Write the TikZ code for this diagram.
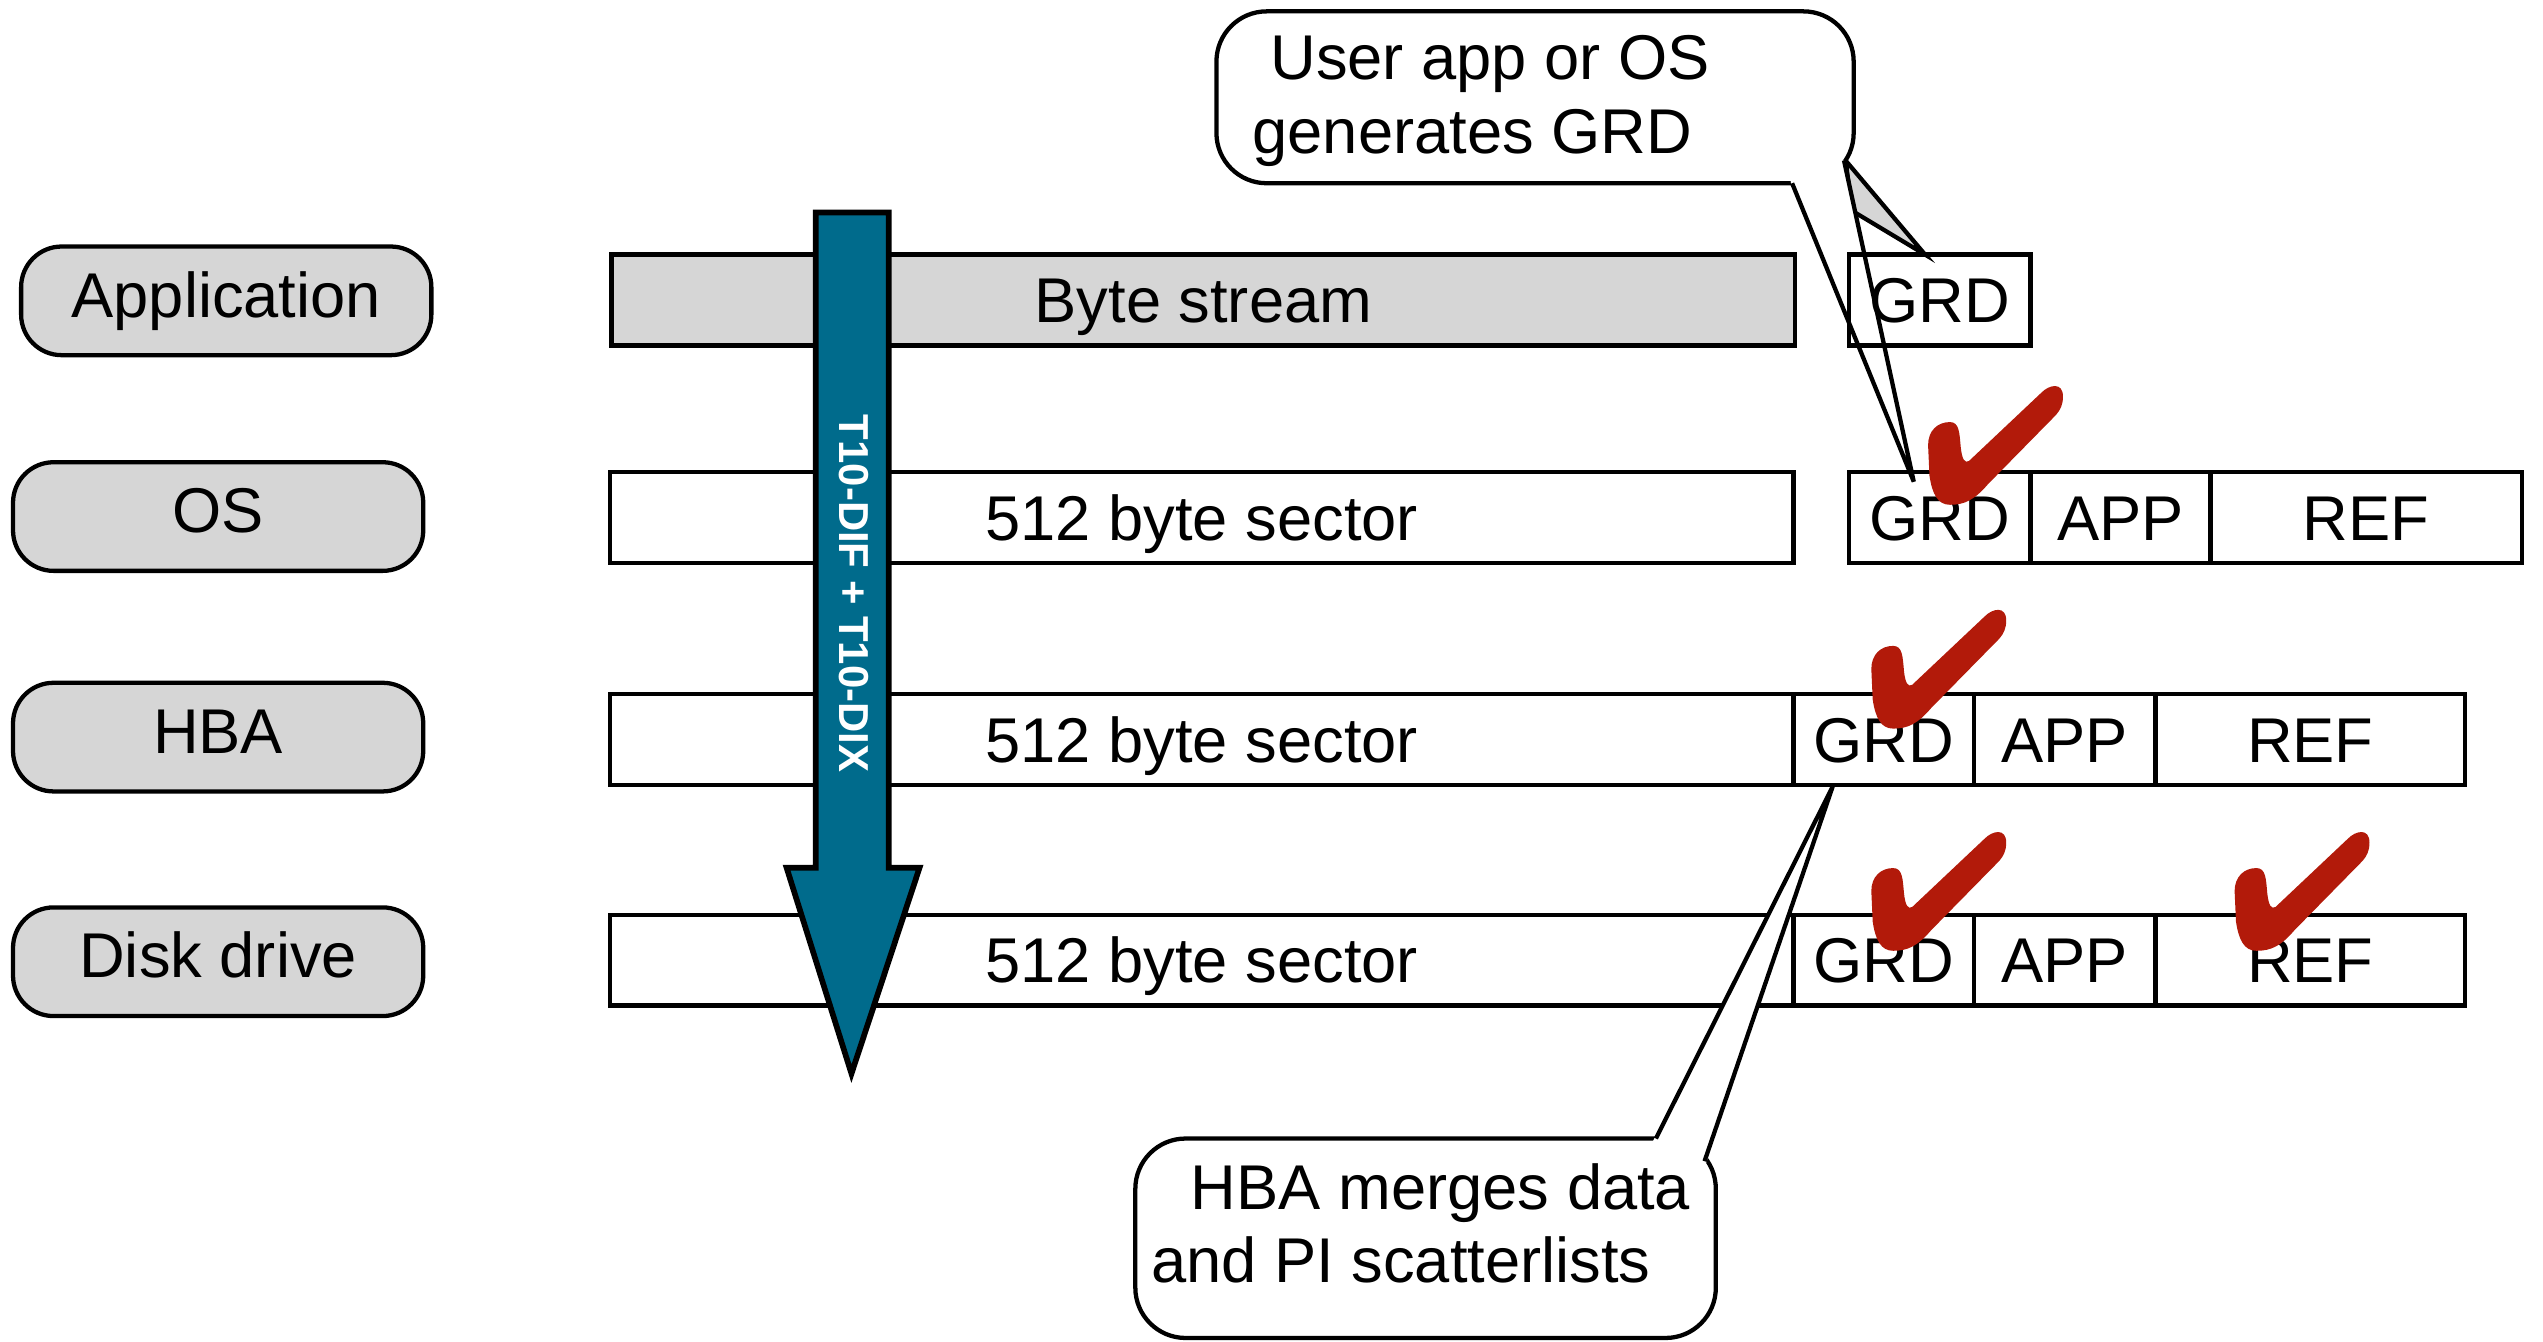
\documentclass[tikz,border=0pt]{standalone}
\usepackage{fontspec}
\setmainfont{Liberation Sans}
\definecolor{boxgray}{RGB}{214,214,214}
\definecolor{checkred}{RGB}{178,26,10}
\definecolor{arrowblue}{RGB}{0,107,140}
\begin{document}
\begin{tikzpicture}[x=0.02cm, y=-0.02cm, line width=1.5pt,
  every node/.style={font=\fontsize{22.2}{26}\selectfont},
  layerbox/.style={draw, fill=boxgray, rounded corners=0.5cm, minimum width=5.06cm,
    minimum height=1.34cm, inner sep=0pt, text height=0.56cm, text depth=0.16cm},
  secbox/.style={draw, minimum height=1.12cm, inner sep=0pt, text height=0.56cm, text depth=0pt},
  bubble/.style={draw, fill=white, rounded corners=0.62cm, inner sep=0pt},
  bubtext/.style={anchor=base west, inner sep=0pt},
  pics/redtick/.style={code={
    \fill[checkred] (0.17,0.99) .. controls (0.08,0.99) and (0.04,0.9) .. (0.02,0.75)
      -- (0.01,0.5) .. controls (0.01,0.38) and (0.08,0.31) .. (0.17,0.31)
      .. controls (0.24,0.31) and (0.24,0.4) .. (0.25,0.52)
      .. controls (0.26,0.62) and (0.28,0.65) .. (0.31,0.63)
      -- (0.84,0.07) .. controls (0.9,0.0) and (1.0,-0.02) .. (1.0,0.1)
      .. controls (1.0,0.17) and (0.98,0.21) .. (0.95,0.25)
      -- (0.45,0.82) .. controls (0.35,0.95) and (0.28,0.99) .. (0.17,0.99) -- cycle;
  }},
]
\useasboundingbox (0,0) rectangle (1568,827);

% layer labels
\node[layerbox] (lapp) at (139.5,185.5) {Application};
\node[layerbox] (los) at (134.5,318.5) {OS};
\node[layerbox] (lhba) at (134.5,454.5) {HBA};
\node[layerbox] (ldisk) at (134.5,593) {Disk drive};

% data boxes
\node[secbox, fill=boxgray, minimum width=14.6cm] (bs) at (742,185) {Byte stream};
\node[secbox, minimum width=14.6cm] (s1) at (741,319) {512 byte sector};
\node[secbox, minimum width=14.6cm] (s2) at (741,456) {512 byte sector};
\node[secbox, minimum width=14.6cm] (s3) at (741,592) {512 byte sector};

% HBA row PI
\node[secbox, minimum width=2.22cm] (g2) at (1161.5,456) {GRD};
\node[secbox, minimum width=2.24cm] (a2) at (1273,456) {APP};
\node[secbox, minimum width=3.82cm] (r2) at (1424.5,456) {REF};
% Disk row PI
\node[secbox, minimum width=2.22cm] (g3) at (1161.5,592) {GRD};
\node[secbox, minimum width=2.24cm] (a3) at (1273,592) {APP};
\node[secbox, minimum width=3.82cm] (r3) at (1424.5,592) {REF};

% big arrow
\filldraw[fill=arrowblue, draw=black, line width=2pt, line join=miter]
  (503,131) -- (548,131) -- (548,535) -- (567,535) -- (525,662) -- (485,535) -- (503,535) -- cycle;
\node[rotate=-90, text=white, font=\fontsize{14.7}{16}\selectfont\bfseries,
  text height=0.37cm, text depth=0pt, inner sep=0pt] (arrtxt) at (527,366) {T10-DIF + T10-DIX};

% gray triangle
\filldraw[fill=boxgray, draw=black] (1138,99) -- (1187,157) -- (1142,130) -- cycle;

% top callout
\node[bubble, minimum width=7.86cm, minimum height=2.12cm] (cb1) at (946.5,60) {};
\coordinate (p1a) at (1105,113);
\coordinate (p1t) at (1180,297);
\coordinate (p1b) at (1137,99);
\fill[white] (1104,112) -- (p1t) -- (p1b) -- (1125,100) -- cycle;
\draw[line join=miter] (p1a) -- (p1t) -- (p1b);
\node[bubtext] (t1a) at (782,49.3) {User app or OS};
\node[bubtext] (t1b) at (771,94.6) {generates GRD};

% application and OS row PI boxes
\node[secbox, minimum width=2.24cm] (g0) at (1196,185) {GRD};
\node[secbox, minimum width=2.24cm] (g1) at (1196,319) {GRD};
\node[secbox, minimum width=2.22cm] (a1) at (1307.5,319) {APP};
\node[secbox, minimum width=3.84cm] (r1) at (1459,319) {REF};

% bottom callout
\node[bubble, minimum width=7.16cm, minimum height=2.46cm] (cb2) at (879,763.5) {};
\coordinate (p2a) at (1021,702);
\coordinate (p2t) at (1130,485);
\coordinate (p2b) at (1051,716);
\fill[white] (1019,704) -- (p2t) -- (1052,717) -- (1040,712) -- cycle;
\draw[line join=miter] (p2a) -- (p2t) -- (p2b);
\node[bubtext] (t2a) at (733,746) {HBA merges data};
\node[bubtext] (t2b) at (708.5,791) {and PI scatterlists};

% check marks
\pic[xscale=84, yscale=75] at (1188,237) {redtick};
\pic[xscale=84, yscale=75] at (1153,375) {redtick};
\pic[xscale=84, yscale=75] at (1153,512) {redtick};
\pic[xscale=84, yscale=75] at (1377,512) {redtick};
\end{tikzpicture}
\end{document}
